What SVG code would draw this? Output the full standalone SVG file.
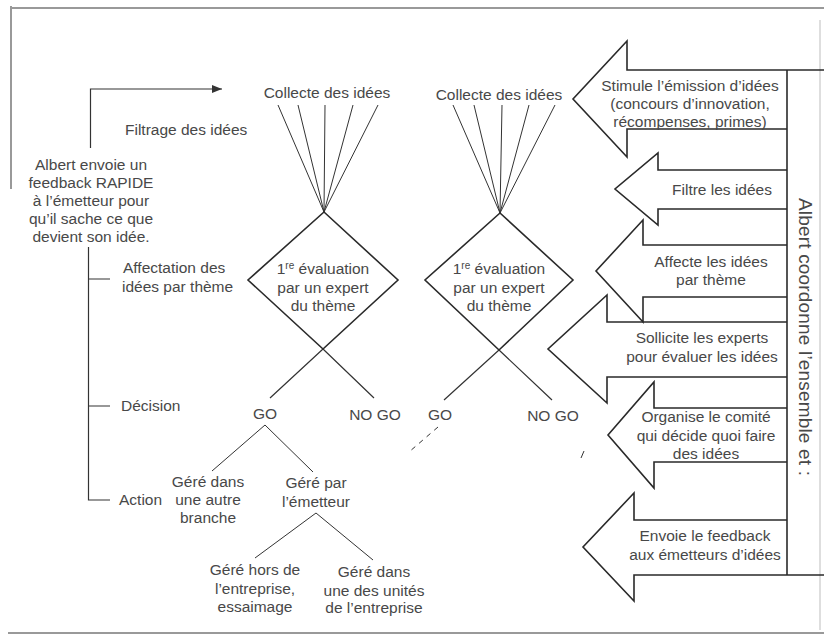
<svg xmlns="http://www.w3.org/2000/svg" width="824" height="639" viewBox="0 0 824 639">
  <defs>
    <style>
      text { font-family: "Liberation Sans", Arial, sans-serif; font-size: 15.5px; fill: #484848; }
      .c { text-anchor: middle; }
      .sup { font-size: 10px; }
      .big { font-size: 19px; }
      .ln { stroke: #333; stroke-width: 1.2; fill: none; }
      .fan { stroke: #333; stroke-width: 1; fill: none; }
      .shape { stroke: #2a2a2a; stroke-width: 1.6; fill: none; stroke-linejoin: miter; }
      .frame { stroke: #777; stroke-width: 1.5; fill: none; }
      .faint { stroke: #c8c8c8; stroke-width: 1.2; fill: none; }
    </style>
    <marker id="head" markerUnits="userSpaceOnUse" markerWidth="10" markerHeight="8" refX="10" refY="4" orient="auto">
      <path d="M0,0 L10,4 L0,8 z" fill="#333"/>
    </marker>
  </defs>

  <rect width="824" height="639" fill="#fff"/>

  <!-- page frame -->
  <g id="frame">
    <path class="frame" d="M12,8 H824"/>
    <path class="frame" d="M11,6 V189"/>
    <path class="frame" d="M8,633 H824" stroke="#999"/>
    <path class="faint" d="M820,20 V630"/>
  </g>

  <!-- connectors -->
  <g id="connectors">
    <!-- feedback loop back to collection -->
    <path class="ln" d="M90.5,148 V89 H222" marker-end="url(#head)"/>
    <!-- stage timeline -->
    <path class="ln" d="M88.5,247 V500 H110 M88.5,279 H110 M88.5,406 H110"/>
    <!-- fan of ideas, first column -->
    <path class="fan" d="M278,105 L324,212 M298,105 L324,212 M325,105 L324,212 M353,105 L324,212 M378,105 L324,212"/>
    <!-- fan of ideas, second column -->
    <path class="fan" d="M453,105 L500,213 M474,105 L500,213 M502,105 L500,213 M529,105 L500,213 M555,105 L500,213"/>
    <!-- decision branches from diamond 1 -->
    <path class="ln" d="M323,349 L374,398 M323,349 L270,398"/>
    <!-- decision branches from diamond 2 -->
    <path class="ln" d="M499,350 L552,400 M499,350 L444,400"/>
    <!-- GO outcomes -->
    <path class="fan" d="M265,425 L212,471 M265,425 L313,472"/>
    <path class="fan" d="M316,513 L255,558 M316,513 L373,560"/>
    <!-- pending branch -->
    <path class="fan" d="M438,427 L409,452" stroke-dasharray="5 5"/>
    <path class="fan" d="M581,458 L584,451"/>
  </g>

  <!-- left labels -->
  <g id="feedback-note">
    <text class="c" x="91" y="170">Albert envoie un</text>
    <text class="c" x="91" y="188">feedback RAPIDE</text>
    <text class="c" x="91" y="206">à l’émetteur pour</text>
    <text class="c" x="91" y="224">qu’il sache ce que</text>
    <text class="c" x="91" y="242">devient son idée.</text>
  </g>
  <g id="stage-filtrage"><text x="125" y="135">Filtrage des idées</text></g>
  <g id="stage-affectation">
    <text x="123" y="273">Affectation des</text>
    <text x="122" y="292">idées par thème</text>
  </g>
  <g id="stage-decision"><text x="121" y="411">Décision</text></g>
  <g id="stage-action"><text x="119" y="505">Action</text></g>

  <!-- first column -->
  <g id="collecte-1"><text class="c" x="327" y="98">Collecte des idées</text></g>
  <g id="evaluation-1">
    <path class="shape" d="M324,212 L398,280 L323,349 L248,280 Z"/>
    <text class="c" x="323" y="274">1<tspan class="sup" dy="-5">re</tspan><tspan dy="5"> évaluation</tspan></text>
    <text class="c" x="323" y="293">par un expert</text>
    <text class="c" x="323" y="311">du thème</text>
  </g>
  <g id="go-1"><text class="c" x="265" y="419">GO</text></g>
  <g id="nogo-1"><text class="c" x="375" y="420">NO GO</text></g>
  <g id="autre-branche">
    <text class="c" x="208" y="487">Géré dans</text>
    <text class="c" x="208" y="505">une autre</text>
    <text class="c" x="208" y="523">branche</text>
  </g>
  <g id="par-emetteur">
    <text class="c" x="316" y="488">Géré par</text>
    <text class="c" x="316" y="507">l’émetteur</text>
  </g>
  <g id="hors-entreprise">
    <text class="c" x="255" y="575">Géré hors de</text>
    <text class="c" x="255" y="594">l’entreprise,</text>
    <text class="c" x="255" y="612">essaimage</text>
  </g>
  <g id="unite-entreprise">
    <text class="c" x="374" y="577">Géré dans</text>
    <text class="c" x="374" y="596">une des unités</text>
    <text class="c" x="374" y="613">de l’entreprise</text>
  </g>

  <!-- second column -->
  <g id="collecte-2"><text class="c" x="499" y="100">Collecte des idées</text></g>
  <g id="evaluation-2">
    <path class="shape" d="M500,213 L573,280 L499,350 L425,280 Z"/>
    <text class="c" x="499" y="274">1<tspan class="sup" dy="-5">re</tspan><tspan dy="5"> évaluation</tspan></text>
    <text class="c" x="499" y="293">par un expert</text>
    <text class="c" x="499" y="311">du thème</text>
  </g>
  <g id="go-2"><text class="c" x="440" y="420">GO</text></g>
  <g id="nogo-2"><text class="c" x="553" y="421">NO GO</text></g>

  <!-- coordination column -->
  <g id="coordination">
    <path class="shape" d="M787,70 V575"/>
    <text class="c big" transform="translate(806,337) rotate(90)" y="7" textLength="278" lengthAdjust="spacing">Albert coordonne l’ensemble et :</text>
  </g>
  <g id="stimule">
    <path class="shape" d="M824,70 H627 V41 L573,99 L627,157 V129 H787"/>
    <text class="c" x="690" y="91">Stimule l’émission d’idées</text>
    <text class="c" x="690" y="109">(concours d’innovation,</text>
    <text class="c" x="690" y="127">récompenses, primes)</text>
  </g>
  <g id="filtre">
    <path class="shape" d="M787,170 H658 V153 L615,189 L658,225 V209 H787"/>
    <text class="c" x="722" y="195">Filtre les idées</text>
  </g>
  <g id="affecte">
    <path class="shape" d="M787,245 H643 V220 L596,271 L643,322 V297 H787"/>
    <text class="c" x="711" y="267">Affecte les idées</text>
    <text class="c" x="711" y="285">par thème</text>
  </g>
  <g id="sollicite">
    <path class="shape" d="M787,322 H607 V295 L548,349 L607,403 V377 H787"/>
    <text class="c" x="702" y="343">Sollicite les experts</text>
    <text class="c" x="702" y="362">pour évaluer les idées</text>
  </g>
  <g id="organise">
    <path class="shape" d="M787,408 H654 V382 L608,435 L654,488 V462 H787"/>
    <text class="c" x="706" y="422">Organise le comité</text>
    <text class="c" x="706" y="441">qui décide quoi faire</text>
    <text class="c" x="706" y="459">des idées</text>
  </g>
  <g id="envoie">
    <path class="shape" d="M787,520 H634 V493 L583,547 L634,601 V575 H824"/>
    <text class="c" x="705" y="541">Envoie le feedback</text>
    <text class="c" x="705" y="560">aux émetteurs d’idées</text>
  </g>
</svg>
